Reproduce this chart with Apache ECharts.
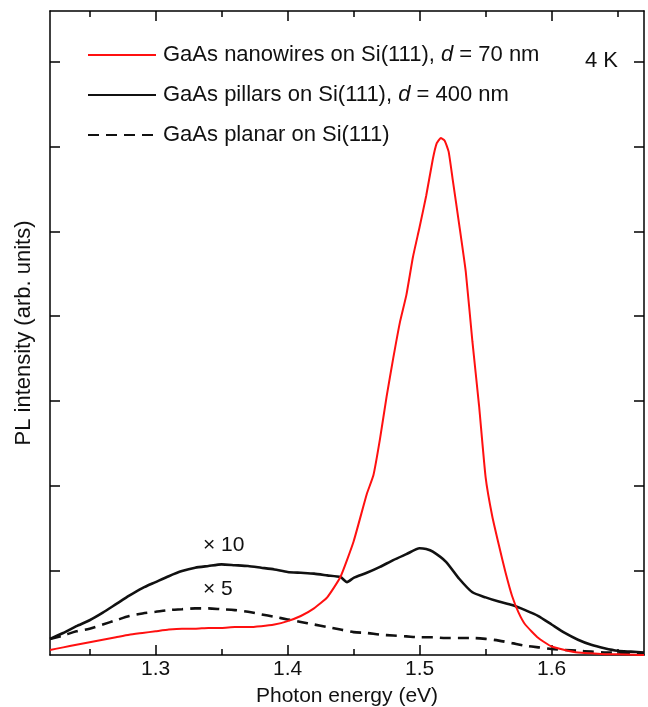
<!DOCTYPE html>
<html>
<head>
<meta charset="utf-8">
<script src="https://cdn.jsdelivr.net/npm/echarts@6/dist/echarts.min.js"></script>
<style>
  html, body { margin: 0; padding: 0; background: #fff; }
  #chart { width: 648px; height: 707px; }
</style>
</head>
<body>
<div id="chart"></div>
<script>
// photon energy (eV) -> PL intensity, arbitrary units (1 unit = one y tick)
const nanowireX = [1.22, 1.23, 1.24, 1.25, 1.26, 1.27, 1.28, 1.29, 1.30, 1.31, 1.32, 1.33, 1.34, 1.35, 1.36, 1.37, 1.38, 1.39, 1.40, 1.41, 1.42, 1.43, 1.44, 1.45, 1.46, 1.465, 1.47, 1.475, 1.48, 1.485, 1.49, 1.495, 1.50, 1.505, 1.51, 1.513, 1.516, 1.519, 1.522, 1.525, 1.53, 1.535, 1.54, 1.545, 1.55, 1.555, 1.56, 1.565, 1.57, 1.575, 1.58, 1.59, 1.60, 1.61, 1.62, 1.63, 1.64, 1.65, 1.67]
const nanowireY = [0.06, 0.09, 0.12, 0.15, 0.18, 0.21, 0.24, 0.26, 0.28, 0.30, 0.31, 0.31, 0.32, 0.32, 0.33, 0.33, 0.34, 0.36, 0.40, 0.46, 0.55, 0.68, 0.92, 1.34, 1.90, 2.12, 2.55, 3.05, 3.50, 3.92, 4.25, 4.70, 5.05, 5.42, 5.85, 6.04, 6.10, 6.07, 5.94, 5.62, 5.08, 4.52, 3.70, 2.95, 2.10, 1.64, 1.30, 0.98, 0.70, 0.50, 0.36, 0.20, 0.10, 0.06, 0.03, 0.02, 0.01, 0.01, 0.0]

const pillarX = [1.22, 1.23, 1.24, 1.25, 1.26, 1.27, 1.28, 1.29, 1.30, 1.31, 1.32, 1.33, 1.34, 1.35, 1.36, 1.37, 1.38, 1.39, 1.40, 1.41, 1.42, 1.43, 1.44, 1.445, 1.45, 1.46, 1.47, 1.48, 1.49, 1.50, 1.505, 1.51, 1.52, 1.53, 1.54, 1.55, 1.56, 1.57, 1.58, 1.59, 1.60, 1.61, 1.62, 1.63, 1.64, 1.65, 1.66, 1.67]
const pillarY = [0.19, 0.26, 0.34, 0.41, 0.50, 0.60, 0.70, 0.79, 0.86, 0.93, 0.99, 1.03, 1.05, 1.07, 1.06, 1.05, 1.03, 1.01, 0.98, 0.97, 0.96, 0.94, 0.92, 0.86, 0.91, 0.97, 1.04, 1.12, 1.19, 1.26, 1.25, 1.22, 1.10, 0.90, 0.74, 0.68, 0.63, 0.59, 0.53, 0.46, 0.36, 0.26, 0.18, 0.12, 0.08, 0.05, 0.04, 0.03]

const planarX = [1.22, 1.23, 1.24, 1.25, 1.26, 1.27, 1.28, 1.29, 1.30, 1.31, 1.32, 1.33, 1.34, 1.35, 1.36, 1.37, 1.38, 1.39, 1.40, 1.41, 1.42, 1.43, 1.44, 1.45, 1.46, 1.47, 1.48, 1.49, 1.50, 1.51, 1.52, 1.53, 1.54, 1.55, 1.56, 1.57, 1.58, 1.59, 1.60, 1.61, 1.62, 1.63, 1.64, 1.65, 1.66, 1.67]
const planarY = [0.19, 0.23, 0.28, 0.31, 0.36, 0.41, 0.46, 0.49, 0.51, 0.53, 0.54, 0.55, 0.55, 0.54, 0.53, 0.51, 0.48, 0.45, 0.42, 0.39, 0.36, 0.33, 0.30, 0.27, 0.26, 0.24, 0.23, 0.22, 0.21, 0.21, 0.20, 0.20, 0.20, 0.19, 0.17, 0.14, 0.11, 0.09, 0.07, 0.06, 0.05, 0.04, 0.03, 0.03, 0.02, 0.02]

const majorTicks = [1.3, 1.4, 1.5, 1.6]
const minorTicks = [1.25, 1.35, 1.45, 1.55, 1.65]
const yTicks = [1, 2, 3, 4, 5, 6, 7]

const seriesNames = [
  'GaAs nanowires on Si(111), d = 70 nm',
  'GaAs pillars on Si(111), d = 400 nm',
  'GaAs planar on Si(111)'
]

const font = 'Liberation Sans, Arial, Helvetica, sans-serif'

function zip(xs, ys) {
  return xs.map((x, i) => [x, ys[i]])
}

// one x axis per edge and tick size; only the first carries labels
function xAxisDef(position, ticks, len, withLine) {
  return {
    type: 'value',
    position: position,
    min: 1.22,
    max: 1.67,
    axisLine: { show: withLine, lineStyle: { color: '#000', width: 1.5 } },
    axisTick: {
      show: true,
      inside: true,
      length: len,
      customValues: ticks,
      lineStyle: { color: '#000', width: 1.5 }
    },
    axisLabel: { show: false },
    splitLine: { show: false }
  }
}

function yAxisDef(position) {
  return {
    type: 'value',
    position: position,
    min: 0,
    max: 7.6,
    axisLine: { show: true, lineStyle: { color: '#000', width: 1.5 } },
    axisTick: {
      show: true,
      inside: true,
      length: 10,
      customValues: yTicks,
      lineStyle: { color: '#000', width: 1.5 }
    },
    axisLabel: { show: false },
    splitLine: { show: false }
  }
}

const chart = echarts.init(document.getElementById('chart'), null, { renderer: 'canvas' })

const bottomMajor = xAxisDef('bottom', majorTicks, 10, true)
bottomMajor.name = 'Photon energy (eV)'
bottomMajor.nameLocation = 'middle'
bottomMajor.nameGap = 31
bottomMajor.nameTextStyle = { fontFamily: font, fontSize: 21, color: '#111' }
bottomMajor.axisLabel = {
  show: true,
  customValues: majorTicks,
  formatter: v => v.toFixed(1),
  fontFamily: font,
  fontSize: 21,
  color: '#111',
  margin: 4
}

const leftAxis = yAxisDef('left')
leftAxis.name = 'PL intensity (arb. units)'
leftAxis.nameLocation = 'middle'
leftAxis.nameGap = 15
leftAxis.nameTextStyle = { fontFamily: font, fontSize: 22, color: '#111' }

chart.setOption({
  animation: false,
  backgroundColor: '#fff',
  grid: {
    left: 50,
    right: 4,
    top: 11,
    bottom: 52,
    outerBoundsMode: 'none'
  },
  legend: {
    orient: 'vertical',
    left: 82,
    top: 39,
    itemWidth: 68,
    itemHeight: 20,
    itemGap: 18,
    data: seriesNames,
    itemStyle: { opacity: 0, borderWidth: 0 },
    formatter: name => name.replace(/ d = /, ' {i|d} = '),
    textStyle: {
      fontFamily: font,
      fontSize: 22,
      lineHeight: 22,
      color: '#111',
      padding: [0, 0, 0, 2],
      rich: {
        i: { fontFamily: font, fontSize: 22, lineHeight: 22, fontStyle: 'italic', color: '#111' }
      }
    }
  },
  xAxis: [
    bottomMajor,
    xAxisDef('bottom', minorTicks, 6, false),
    xAxisDef('top', majorTicks, 10, true),
    xAxisDef('top', minorTicks, 6, false)
  ],
  yAxis: [leftAxis, yAxisDef('right')],
  graphic: [
    { type: 'text', left: 585, top: 50, style: { text: '4 K', font: '22px ' + font, fill: '#111' } },
    { type: 'text', left: 203, top: 535, style: { text: '× 10', font: '21px ' + font, fill: '#111' } },
    { type: 'text', left: 203, top: 579, style: { text: '× 5', font: '21px ' + font, fill: '#111' } }
  ],
  series: [
    {
      name: seriesNames[0],
      type: 'line',
      xAxisIndex: 0,
      yAxisIndex: 0,
      data: zip(nanowireX, nanowireY),
      symbol: 'none',
      smooth: 0.15,
      z: 3,
      lineStyle: { color: '#ff1010', width: 2 },
      itemStyle: { color: '#ff1010' }
    },
    {
      name: seriesNames[1],
      type: 'line',
      xAxisIndex: 0,
      yAxisIndex: 0,
      data: zip(pillarX, pillarY),
      symbol: 'none',
      smooth: 0.2,
      z: 2,
      lineStyle: { color: '#111', width: 2.6 },
      itemStyle: { color: '#111' }
    },
    {
      name: seriesNames[2],
      type: 'line',
      xAxisIndex: 0,
      yAxisIndex: 0,
      data: zip(planarX, planarY),
      symbol: 'none',
      smooth: 0.3,
      z: 2,
      lineStyle: { color: '#111', width: 2.6, type: [11, 7] },
      itemStyle: { color: '#111' }
    }
  ]
})
</script>
</body>
</html>
